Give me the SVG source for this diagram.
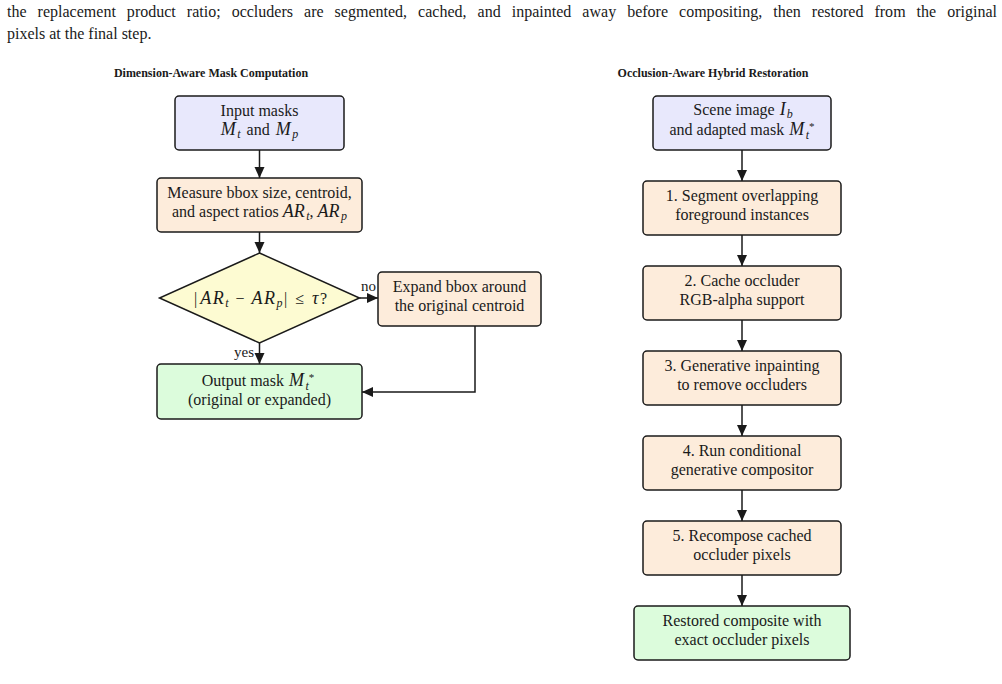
<svg xmlns="http://www.w3.org/2000/svg" width="1002" height="684" viewBox="0 0 1002 684">
<defs>
<marker id="arr" markerUnits="userSpaceOnUse" markerWidth="12" markerHeight="11" refX="11" refY="5.5" orient="auto">
<path d="M0,0.5 L11,5.5 L0,10.5 z" fill="#1a1a1a"/>
</marker>
</defs>
<style>
text{font-family:"Liberation Serif","Times New Roman",serif;fill:#1a1a1a}
.cap{font-size:16px}
.ttl{font-size:12px;font-weight:bold;text-anchor:middle}
.lbl{font-size:16px;text-anchor:middle}
.el{font-size:15px}
.mi{font-style:italic;font-size:18px}
.ar{letter-spacing:1.5px}
.sb{font-size:12px;font-style:italic}
.st{font-size:11px;font-style:normal}
.box{stroke:#1a1a1a;stroke-width:1.5}
.blue{fill:#e8e8fc}
.peach{fill:#fdecdb}
.yel{fill:#fdfbd2}
.grn{fill:#dcfcdc}
.con{fill:none;stroke:#1a1a1a;stroke-width:1.5;marker-end:url(#arr)}
</style>
<rect width="1002" height="684" fill="#ffffff"/>
<text class="cap" x="7" y="17" word-spacing="7" textLength="990" lengthAdjust="spacing">the replacement product ratio; occluders are segmented, cached, and inpainted away before compositing, then restored from the original</text>
<text class="cap" x="7" y="39">pixels at the final step.</text>

<text class="ttl" x="211" y="77">Dimension-Aware Mask Computation</text>
<text class="ttl" x="713" y="77">Occlusion-Aware Hybrid Restoration</text>

<g id="connectors">
<line class="con" x1="259.5" y1="150" x2="259.5" y2="178"/>
<line class="con" x1="259.5" y1="232" x2="259.5" y2="253"/>
<line class="con" x1="359.5" y1="298" x2="378" y2="298"/>
<line class="con" x1="259.5" y1="343" x2="259.5" y2="364"/>
<path class="con" d="M475,326 V392 H362"/>
<text class="el" x="361" y="291">no</text>
<text class="el" x="254" y="357" text-anchor="end">yes</text>
<line class="con" x1="742" y1="150" x2="742" y2="181"/>
<line class="con" x1="742" y1="235" x2="742" y2="266"/>
<line class="con" x1="742" y1="320" x2="742" y2="351"/>
<line class="con" x1="742" y1="405" x2="742" y2="436"/>
<line class="con" x1="742" y1="490" x2="742" y2="521"/>
<line class="con" x1="742" y1="575" x2="742" y2="606"/>
</g>

<g id="input">
<rect class="box blue" x="175" y="96" width="169" height="54" rx="4"/>
<text class="lbl" x="259.5" y="116">Input masks</text>
<text class="lbl" x="259.5" y="135"><tspan class="mi">M</tspan><tspan class="sb" dx="1.5" dy="3">t</tspan><tspan dx="2" dy="-3"> and </tspan><tspan class="mi" dx="2">M</tspan><tspan class="sb" dx="1.5" dy="3">p</tspan></text>
</g>

<g id="measure">
<rect class="box peach" x="157" y="178" width="205" height="54" rx="4"/>
<text class="lbl" x="259.5" y="198">Measure bbox size, centroid,</text>
<text class="lbl" x="259.5" y="217">and aspect ratios <tspan class="mi">AR</tspan><tspan class="sb" dx="1.5" dy="3">t</tspan><tspan dy="-3">, </tspan><tspan class="mi">AR</tspan><tspan class="sb" dx="1.5" dy="3">p</tspan></text>
</g>

<g id="decision">
<polygon class="box yel" points="259.5,253 359.5,298 259.5,343 159.5,298"/>
<text class="lbl" x="260.5" y="304">|<tspan class="mi ar" dx="3">AR</tspan><tspan class="sb" dy="3">t</tspan><tspan dy="-3" dx="7">−</tspan><tspan class="mi ar" dx="7">AR</tspan><tspan class="sb" dy="3">p</tspan><tspan dy="-3" dx="1.5">|</tspan><tspan dx="8">≤</tspan><tspan class="mi" dx="8">τ</tspan><tspan dx="1.5">?</tspan></text>
</g>

<g id="expand">
<rect class="box peach" x="378" y="272" width="163" height="54" rx="4"/>
<text class="lbl" x="459.5" y="292">Expand bbox around</text>
<text class="lbl" x="459.5" y="311">the original centroid</text>
</g>

<g id="output">
<rect class="box grn" x="157" y="364" width="205" height="55" rx="4"/>
<text class="lbl" x="258" y="386">Output mask <tspan class="mi" dx="1">M</tspan><tspan class="sb" dx="1.5" dy="3.5">t</tspan><tspan class="st" dx="0" dy="-9">*</tspan></text>
<text class="lbl" x="259.5" y="405">(original or expanded)</text>
</g>

<g id="scene">
<rect class="box blue" x="653" y="96" width="178" height="54" rx="4"/>
<text class="lbl" x="743" y="115">Scene image <tspan class="mi" dx="1">I</tspan><tspan class="sb" dx="1" dy="2.5">b</tspan></text>
<text class="lbl" x="742" y="135">and adapted mask <tspan class="mi" dx="1">M</tspan><tspan class="sb" dx="1.5" dy="3.5">t</tspan><tspan class="st" dx="0" dy="-8.5">*</tspan></text>
</g>

<g id="step1">
<rect class="box peach" x="643" y="181" width="198" height="54" rx="4"/>
<text class="lbl" x="742" y="201">1.  Segment overlapping</text>
<text class="lbl" x="742" y="220">foreground instances</text>
</g>

<g id="step2">
<rect class="box peach" x="643" y="266" width="198" height="54" rx="4"/>
<text class="lbl" x="742" y="286">2.  Cache occluder</text>
<text class="lbl" x="742" y="305">RGB-alpha support</text>
</g>

<g id="step3">
<rect class="box peach" x="643" y="351" width="198" height="54" rx="4"/>
<text class="lbl" x="742" y="371">3.  Generative inpainting</text>
<text class="lbl" x="742" y="390">to remove occluders</text>
</g>

<g id="step4">
<rect class="box peach" x="643" y="436" width="198" height="54" rx="4"/>
<text class="lbl" x="742" y="456">4.  Run conditional</text>
<text class="lbl" x="742" y="475">generative compositor</text>
</g>

<g id="step5">
<rect class="box peach" x="643" y="521" width="198" height="54" rx="4"/>
<text class="lbl" x="742" y="541">5.  Recompose cached</text>
<text class="lbl" x="742" y="560">occluder pixels</text>
</g>

<g id="result">
<rect class="box grn" x="634" y="606" width="216" height="54" rx="4"/>
<text class="lbl" x="742" y="626">Restored composite with</text>
<text class="lbl" x="742" y="645">exact occluder pixels</text>
</g>
</svg>
